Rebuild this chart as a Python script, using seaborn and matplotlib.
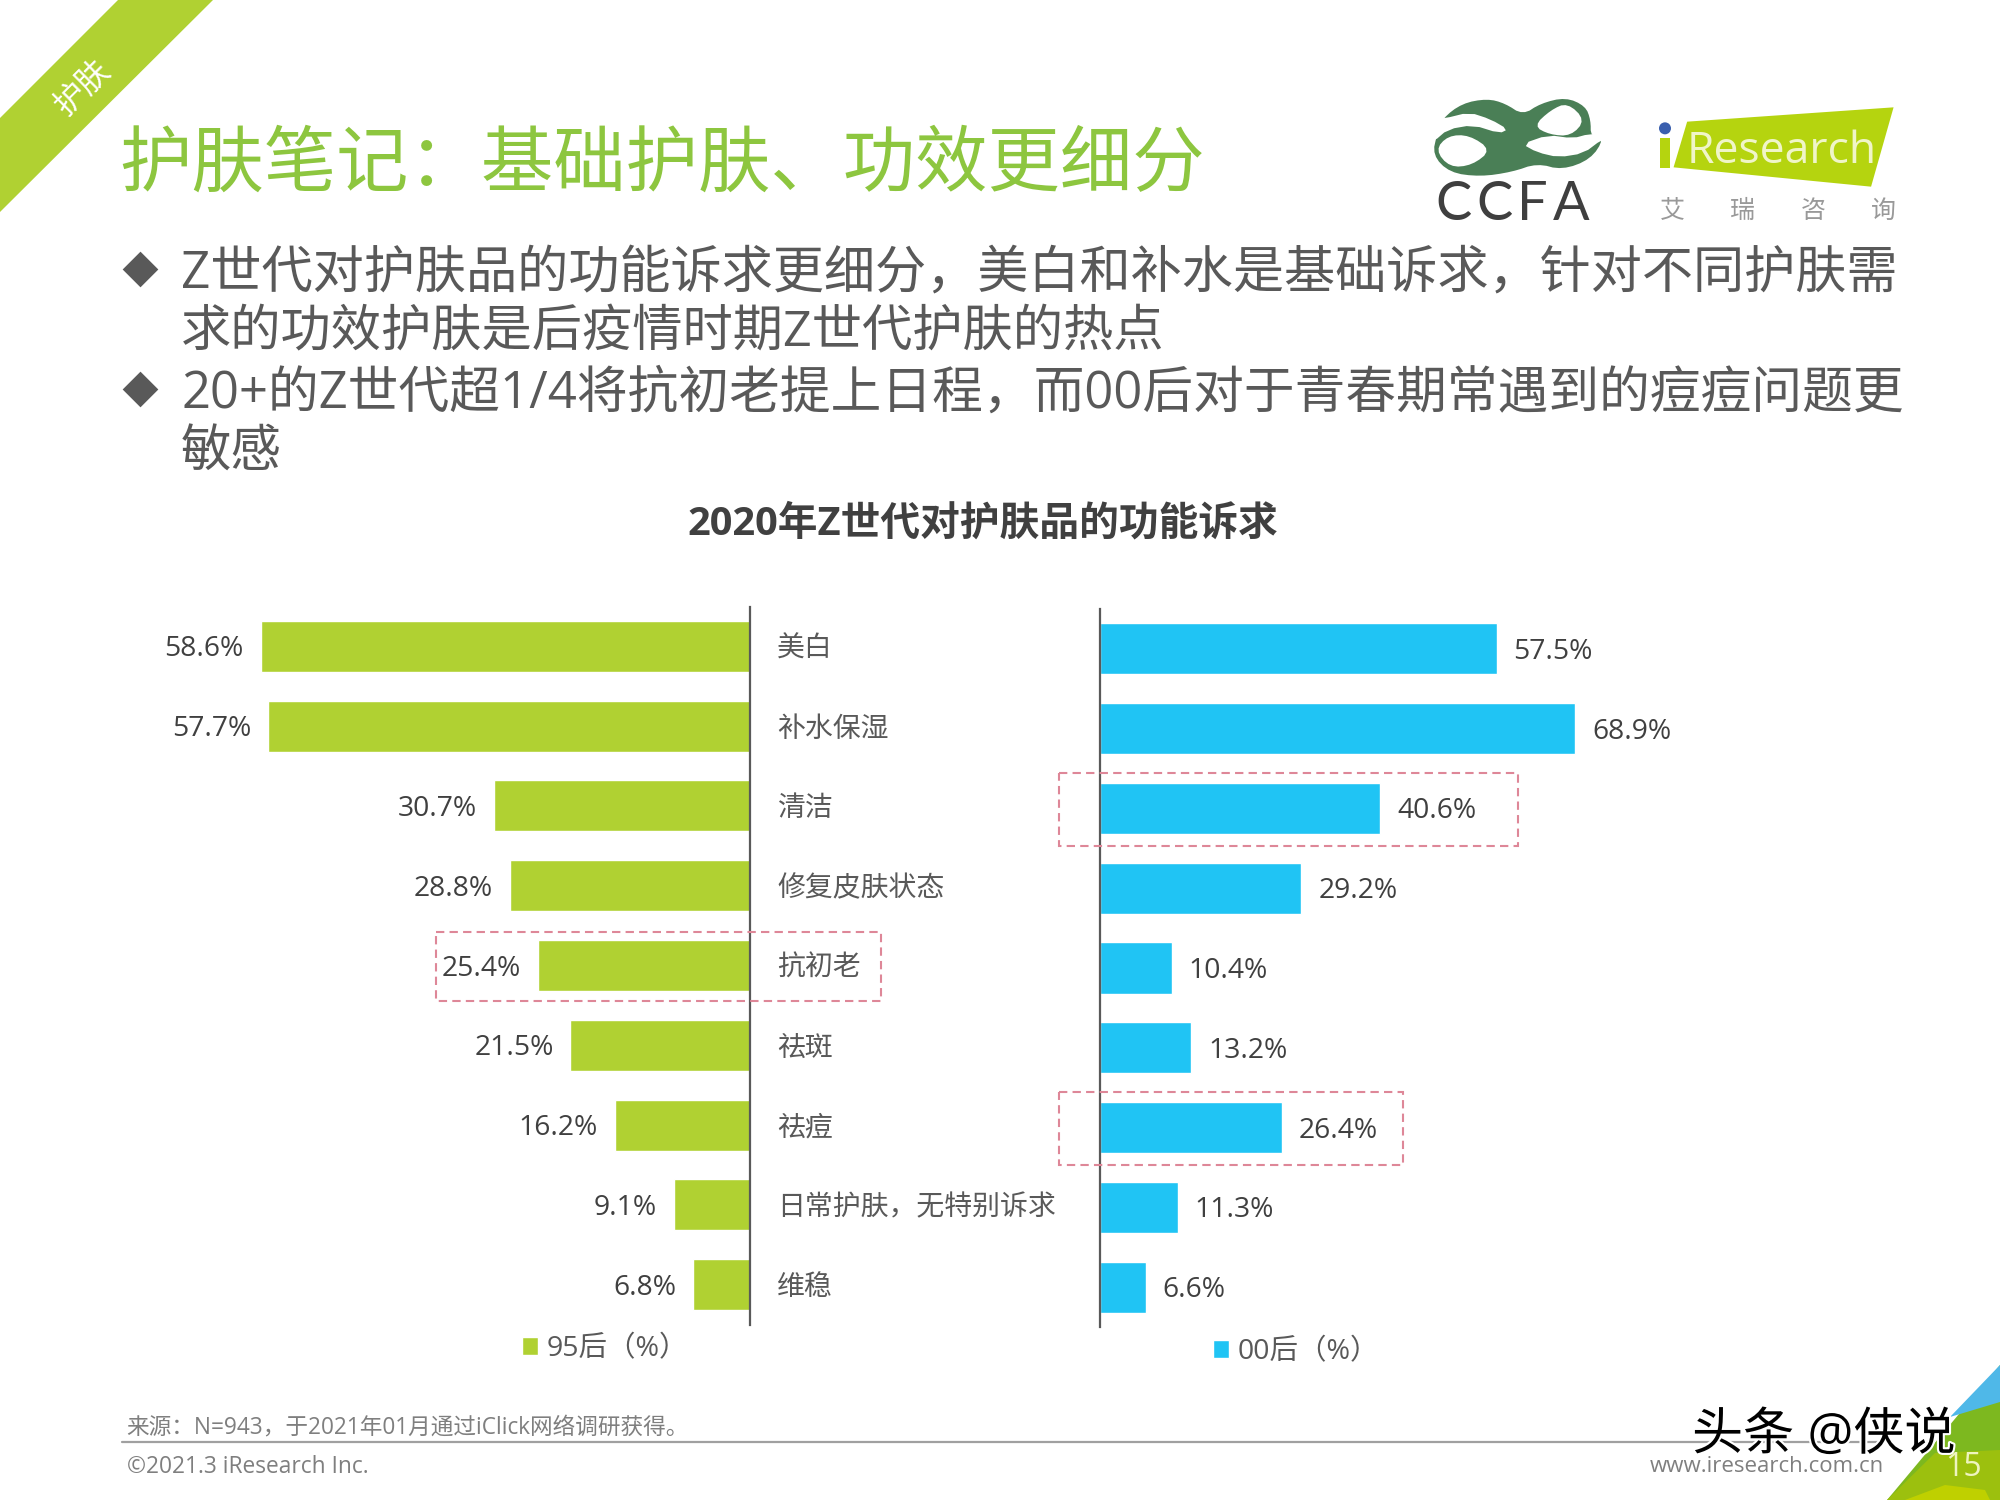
import numpy as np
import pandas as pd
import seaborn as sns
import matplotlib.patheffects as pe
from matplotlib import pyplot as plt
from matplotlib.patches import Circle, PathPatch, Polygon, Rectangle
from matplotlib.path import Path

categories = ["美白", "补水保湿", "清洁", "修复皮肤状态", "抗初老", "祛斑", "祛痘", "日常护肤，无特别诉求", "维稳"]
values_95 = [58.6, 57.7, 30.7, 28.8, 25.4, 21.5, 16.2, 9.1, 6.8]
values_00 = [57.5, 68.9, 40.6, 29.2, 10.4, 13.2, 26.4, 11.3, 6.6]

title = "护肤笔记：基础护肤、功效更细分"
bullet_lines = [
    "Z世代对护肤品的功能诉求更细分，美白和补水是基础诉求，针对不同护肤需",
    "求的功效护肤是后疫情时期Z世代护肤的热点",
    "20+的Z世代超1/4将抗初老提上日程，而00后对于青春期常遇到的痘痘问题更",
    "敏感",
]
chart_title = "2020年Z世代对护肤品的功能诉求"
source = "来源：N=943，于2021年01月通过iClick网络调研获得。"

LIME = "#B0D132"
BLUE = "#20C4F4"
GRAY = "#595959"
DARK = "#404040"

sns.set_theme(style="white")
plt.rcParams["font.family"] = ["Open Sans", "Noto Sans CJK SC", "DejaVu Sans"]
plt.rcParams["axes.unicode_minus"] = False

df = pd.DataFrame({"cat": categories, "v95": values_95, "v00": values_00})

fig = plt.figure(figsize=(20, 15), dpi=100, facecolor="white")


def px_axes(x0, y0, x1, y1):
    return fig.add_axes([x0 / 2000, 1 - y1 / 1500, (x1 - x0) / 2000, (y1 - y0) / 1500])


# the two bar panels share a label column between them
ax_l = px_axes(100, 606.5, 750, 1324.5)
ax_r = px_axes(1100, 609, 1700, 1327)

sns.barplot(data=df, x="v95", y="cat", color=LIME, width=0.64, saturation=1, label="95后（%）", ax=ax_l)
sns.barplot(data=df, x="v00", y="cat", color=BLUE, width=0.64, saturation=1, label="00后（%）", ax=ax_r)

ax_l.set_xlim(77.85, 0)
ax_r.set_xlim(0, 87)

ax_l.yaxis.tick_right()
ax_l.tick_params(axis="y", length=0, pad=19.5, labelsize=20.1, labelcolor=GRAY)
ax_r.set_yticks([])

for ax, vals, side, leg_x, leg_y in [
    (ax_l, values_95, "right", 522, 1349),
    (ax_r, values_00, "left", 1213, 1352),
]:
    ax.set_xlabel("")
    ax.set_ylabel("")
    ax.set_xticks([])
    for name, spine in ax.spines.items():
        spine.set_visible(name == side)
    ax.spines[side].set_color(GRAY)
    ax.spines[side].set_linewidth(1.6)
    ax.patch.set_alpha(0)
    labels = ax.bar_label(ax.containers[0], labels=[f"{v}%" for v in vals], padding=12.2, fontsize=20.3, color=DARK)
    for lab in labels:
        lab.xyann = (lab.xyann[0], lab.xyann[1] - 2.2)
    ax.legend(
        loc="center left",
        bbox_to_anchor=(leg_x / 2000, 1 - leg_y / 1500),
        bbox_transform=fig.transFigure,
        frameon=False,
        fontsize=20.5,
        labelcolor=GRAY,
        handlelength=0.55,
        handleheight=0.55,
        handletextpad=0.3,
        borderpad=0,
        borderaxespad=0,
    )

# everything else on the slide is placed in pixel coordinates
page = fig.add_axes([0, 0, 1, 1], zorder=5)
page.set_xlim(0, 2000)
page.set_ylim(1500, 0)
page.axis("off")
page.patch.set_alpha(0)

# corner decorations
page.add_patch(Polygon([(0, 118), (118, 0), (213, 0), (0, 212)], fc=LIME, ec="none"))
page.text(83, 88, "护肤", color="white", fontsize=23, rotation=45, ha="center", va="center")

page.add_patch(Polygon([(2000, 1365), (1887, 1500), (2000, 1500)], fc="#7DB81F", ec="none"))
page.add_patch(Polygon([(2000, 1365), (1950, 1417), (2000, 1402)], fc="#4FB8E8", ec="none"))
page.add_patch(Polygon([(1935, 1453), (2000, 1450), (2000, 1500), (1887, 1500)], fc="#9CC00E", ec="none"))
page.add_patch(Polygon([(1905, 1500), (1945, 1485), (1985, 1490), (1990, 1500)], fc="#BFD000", ec="none"))
page.text(1945, 1467, "15", color="#EEF4C0", fontsize=23, ha="left", va="center")

page.text(119, 167, title, color="#8DC63F", fontsize=52.1, ha="left", va="center")

for y, size, line in zip([274, 334, 394, 453], [36.85, 36.2, 36.5, 36.4], bullet_lines):
    page.text(181, y, line, color=GRAY, fontsize=size, ha="left", va="center")
for y in [269, 389]:
    page.scatter([140], [y], marker="D", s=330, color=GRAY, linewidths=0)

page.text(983, 524, chart_title, color=DARK, fontsize=28.6, fontweight="bold", ha="center", va="center")

# dashed highlight boxes
for x0, y0, x1, y1 in [(1059, 773, 1518, 846), (436, 932, 881, 1001), (1059, 1092, 1403, 1165)]:
    page.add_patch(Rectangle((x0, y0), x1 - x0, y1 - y0, fill=False, ec="#DE8798", lw=1.5, ls=(0, (4, 2.5))))

# footer
page.text(126, 1427, source, color="#7F7F7F", fontsize=16.3, ha="left", va="center")
page.plot([122, 1890], [1442, 1442], color="#A0A0A0", lw=1.6)
page.text(127, 1467, "©2021.3 iResearch Inc.", color="#7F7F7F", fontsize=16.4, ha="left", va="center")
page.text(1884, 1467, "www.iresearch.com.cn", color="#7F7F7F", fontsize=16, ha="right", va="center")
page.text(
    1692, 1436, "头条 @侠说", color="black", fontsize=36.8, ha="left", va="center",
    path_effects=[pe.withStroke(linewidth=3, foreground="white")],
)


# logos, traced roughly from the zoomed crop
def zoom_pt(p):
    return (1380 + p[0] / 2.8, 70 + p[1] / 3)


def blob(points, color, rounds=2):
    pts = np.array([zoom_pt(p) for p in points], dtype=float)
    for _ in range(rounds):
        nxt = np.roll(pts, -1, axis=0)
        pts = np.column_stack([0.75 * pts + 0.25 * nxt, 0.25 * pts + 0.75 * nxt]).reshape(-1, 2)
    page.add_patch(PathPatch(Path(np.vstack([pts, pts[0]]), closed=True), fc=color, ec="none"))


ribbon = "#4A7F56"
blob([(175, 145), (230, 100), (300, 86), (350, 100), (400, 135), (450, 100), (520, 82), (575, 108),
      (590, 150), (590, 200), (628, 205), (590, 268), (510, 300), (440, 280), (370, 306), (280, 320),
      (195, 308), (147, 255), (160, 190)], ribbon)
blob([(430, 168), (478, 120), (525, 98), (575, 150), (535, 198), (475, 194)], "white")
blob([(312, 240), (250, 195), (190, 197), (155, 240), (195, 292), (258, 286)], "white")
blob([(120, 150), (178, 146), (250, 127), (310, 148), (358, 178), (335, 190), (260, 165), (190, 178),
      (150, 215), (120, 215)], "white", 1)
blob([(398, 222), (470, 195), (540, 205), (585, 192), (640, 192), (640, 208), (622, 208), (570, 250),
      (500, 262), (440, 247)], "white", 1)
for zx, ch in zip([155, 270, 385, 485], "CCFA"):
    page.text(zoom_pt((zx, 0))[0], 205, ch, color="#3F3F3F", fontsize=39, family="Lato", ha="left", va="center")

page.add_patch(Polygon([zoom_pt(p) for p in [(860, 155), (1438, 112), (1375, 350), (822, 292)]], fc="#B5D40F", ec="none"))
page.add_patch(Rectangle(zoom_pt((785, 205)), 10, 30, fc="#B5D40F", ec="none"))
page.add_patch(Circle(zoom_pt((798, 175)), 6, fc="#3A5FAE", ec="none"))
page.text(zoom_pt((858, 0))[0], zoom_pt((0, 280))[1], "Research", color="#F0F5C8", fontsize=32, ha="left", va="baseline")
for zx, ch in zip([818, 1015, 1212, 1410], "艾瑞咨询"):
    page.text(zoom_pt((zx, 0))[0], 211, ch, color="#999999", fontsize=18, ha="center", va="center")

fig.savefig("out.png", dpi=100, facecolor="white")
